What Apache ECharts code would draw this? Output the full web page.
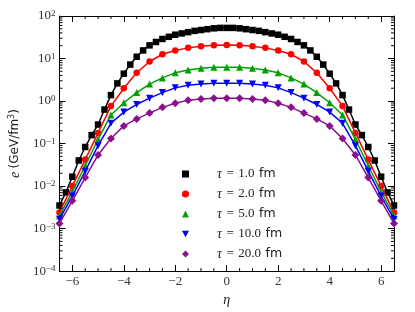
<!DOCTYPE html>
<html><head><meta charset="utf-8">
<script src="https://cdn.jsdelivr.net/npm/echarts@6/dist/echarts.min.js"></script>
<style>html,body{margin:0;padding:0;background:#fff}#c{width:415px;height:312px}</style>
</head><body><div id="c"></div>
<script>
// ---- data ----
const etaFine = [-6.5,-6.25,-6,-5.75,-5.5,-5.25,-5,-4.75,-4.5,-4.25,-4,-3.75,-3.5,-3.25,-3,-2.75,-2.5,-2.25,-2,-1.75,-1.5,-1.25,-1,-0.75,-0.5,-0.25,0,0.25,0.5,0.75,1,1.25,1.5,1.75,2,2.25,2.5,2.75,3,3.25,3.5,3.75,4,4.25,4.5,4.75,5,5.25,5.5,5.75,6,6.25,6.5];
const etaCoarse = [-6.5,-6,-5.5,-5,-4.5,-4,-3.5,-3,-2.5,-2,-1.5,-1,-0.5,0,0.5,1,1.5,2,2.5,3,3.5,4,4.5,5,5.5,6,6.5];
const eTau1 = [0.0035,0.0071,0.0166,0.040,0.083,0.158,0.28,0.63,1.38,2.6,4.4,7.2,11.0,15.5,20.4,24.5,28.8,32.4,36.3,38.9,41.7,44.7,46.8,49.0,51.3,52.5,52.5,52.5,51.3,49.0,46.8,44.7,41.7,38.9,36.3,32.4,28.8,24.5,20.4,15.5,11.0,7.2,4.4,2.6,1.38,0.63,0.28,0.158,0.083,0.040,0.0166,0.0071,0.0035];
const eTau2 = [0.0024,0.010,0.042,0.178,0.76,2.0,4.6,8.5,12.6,15.5,17.8,19.5,20.4,20.9,20.4,19.5,17.8,15.5,12.6,8.5,4.6,2.0,0.76,0.178,0.042,0.010,0.0024];
const eTau5 = [0.0020,0.0074,0.030,0.126,0.47,0.91,1.58,2.5,3.5,4.6,5.4,5.9,6.2,6.2,6.2,5.9,5.4,4.6,3.5,2.5,1.58,0.91,0.47,0.126,0.030,0.0074,0.0020];
const eTau10 = [0.00166,0.0058,0.0224,0.089,0.30,0.55,0.83,1.17,1.58,2.04,2.34,2.51,2.63,2.63,2.63,2.51,2.34,2.04,1.58,1.17,0.83,0.55,0.30,0.089,0.0224,0.0058,0.00166];
const eTau20 = [0.00132,0.0045,0.0158,0.054,0.132,0.26,0.38,0.52,0.71,0.89,1.05,1.12,1.17,1.17,1.17,1.12,1.05,0.89,0.71,0.52,0.38,0.26,0.132,0.054,0.0158,0.0045,0.00132];
const tauLabels = ['1.0','2.0','5.0','10.0','20.0'];
const xTickLabels = [-6,-4,-2,0,2,4,6];
const yTickExponents = [-4,-3,-2,-1,0,1,2];

// ---- styling ----
const colors = ['#000000','#ff0000','#00a000','#0000ff','#8b108b'];
const symbols = ['rect','circle','triangle','path://M0,0L10,0L5,9Z','diamond'];
const symSizes = [6.5,6.5,7,7,8];
const SERIF = '"Liberation Serif", "DejaVu Serif", serif';
const SANS = '"DejaVu Sans", sans-serif';
const minus = s => String(s).replace('-', '\u2212');

const seriesData = [
  [etaFine, eTau1], [etaCoarse, eTau2], [etaCoarse, eTau5], [etaCoarse, eTau10], [etaCoarse, eTau20]
];
const names = tauLabels.map(t => '\u03c4 = ' + t + ' fm');

const series = seriesData.map(([xs, ys], i) => ({
  name: names[i], type: 'line', data: xs.map((x, j) => [x, ys[j]]),
  symbol: symbols[i], symbolSize: symSizes[i], showAllSymbol: true,
  color: colors[i], itemStyle: {color: colors[i]},
  lineStyle: {color: colors[i], width: 1.5}, clip: true, z: 3 + i
}));

// minor ticks (positions from the axes' own scales)
const xMinor = [];
for (let v = -6.5; v <= 6.5; v += 0.5) { if (Math.abs(v) < 6.5 && v % 2 !== 0) xMinor.push([v, 1]); }
const yMinor = [];
for (let n = -4; n <= 1; n++) for (let k = 2; k <= 9; k++) yMinor.push([0, k * Math.pow(10, n)]);

series.push({
  type: 'custom', silent: true, z: 10, data: xMinor, clip: false,
  renderItem: (params, api) => {
    const p = api.coord([api.value(0), 1]); const cs = params.coordSys;
    const st = {stroke: '#000', lineWidth: 1};
    return {type: 'group', children: [
      {type: 'line', shape: {x1: p[0], y1: cs.y + cs.height, x2: p[0], y2: cs.y + cs.height - 3}, style: st},
      {type: 'line', shape: {x1: p[0], y1: cs.y, x2: p[0], y2: cs.y + 3}, style: st}
    ]};
  }
});
series.push({
  type: 'custom', silent: true, z: 10, data: yMinor, clip: false,
  renderItem: (params, api) => {
    const p = api.coord([0, api.value(1)]); const cs = params.coordSys;
    const st = {stroke: '#000', lineWidth: 1};
    return {type: 'group', children: [
      {type: 'line', shape: {x1: cs.x, y1: p[1], x2: cs.x + 3, y2: p[1]}, style: st},
      {type: 'line', shape: {x1: cs.x + cs.width, y1: p[1], x2: cs.x + cs.width - 3, y2: p[1]}, style: st}
    ]};
  }
});

const axisLine = {show: true, onZero: false, lineStyle: {color: '#000', width: 1}};
const xBase = {
  type: 'value', min: -6.5, max: 6.5, splitNumber: 6, minInterval: 2, maxInterval: 2,
  axisLine, splitLine: {show: false},
  axisTick: {show: true, inside: true, length: 6, lineStyle: {color: '#000', width: 1}}
};
const yBase = {
  type: 'log', logBase: 10, min: 1e-4, max: 1e2, splitNumber: 6,
  axisLine, splitLine: {show: false},
  axisTick: {show: true, inside: true, length: 6, lineStyle: {color: '#000', width: 1}}
};

const txt = '#222';
const option = {
  animation: false,
  backgroundColor: '#fff',
  grid: {left: 58, right: 21, top: 16, bottom: 38, containLabel: false},
  xAxis: [
    Object.assign({}, xBase, {
      position: 'bottom',
      axisLabel: {
        margin: 4, color: '#333', fontFamily: SERIF, fontSize: 13,
        formatter: v => xTickLabels.indexOf(v) >= 0 ? minus(v) : ''
      },
      name: '\u03b7', nameLocation: 'middle', nameGap: 17,
      nameTextStyle: {fontFamily: SERIF, fontStyle: 'italic', fontSize: 14, color: txt}
    }),
    Object.assign({}, xBase, {position: 'top', axisLabel: {show: false}})
  ],
  yAxis: [
    Object.assign({}, yBase, {
      position: 'left',
      axisLabel: {
        margin: 4, color: '#333',
        formatter: v => {
          const ex = Math.round(Math.log10(v));
          return yTickExponents.indexOf(ex) >= 0 ? '{b|10}{s|' + minus(ex) + '}' : '';
        },
        rich: {
          b: {fontFamily: SERIF, fontSize: 13, lineHeight: 13, color: '#333'},
          s: {fontFamily: SERIF, fontSize: 9, lineHeight: 9, verticalAlign: 'top', color: '#333'}
        }
      },
      name: '{i|e} {r|(GeV/fm}{s|3}{r|)}', nameLocation: 'middle', nameGap: 32, nameRotate: 90,
      nameTextStyle: {
        rich: {
          i: {fontFamily: SERIF, fontStyle: 'italic', fontSize: 14, lineHeight: 14, color: txt},
          r: {fontFamily: SANS, fontSize: 12, lineHeight: 14, color: txt},
          s: {fontFamily: SANS, fontSize: 8, lineHeight: 8, verticalAlign: 'top', color: txt}
        }
      }
    }),
    Object.assign({}, yBase, {position: 'right', axisLabel: {show: false}})
  ],
  legend: {
    orient: 'vertical', left: 177, top: 162, itemWidth: 7, itemHeight: 7, itemGap: 6,
    data: names.map((n, i) => ({name: n, icon: symbols[i]})),
    selectedMode: false,
    formatter: name => {
      const t = name.split(' ')[2];
      return '{sp| }{t|\u03c4}{g| }{q|=}{g| }{n|' + t + '}{g| }{f|fm}';
    },
    textStyle: {
      rich: {
        sp: {width: 23, lineHeight: 14},
        g: {width: 4.5, lineHeight: 14},
        t: {fontFamily: SERIF, fontStyle: 'italic', fontSize: 14, lineHeight: 14, color: txt},
        q: {fontFamily: SERIF, fontSize: 13, lineHeight: 14, color: txt},
        n: {fontFamily: SERIF, fontSize: 13, lineHeight: 14, color: txt},
        f: {fontFamily: SANS, fontSize: 12.5, lineHeight: 14, color: txt}
      }
    }
  },
  series
};
const chart = echarts.init(document.getElementById('c'), null, {renderer: 'canvas'});
chart.setOption(option);
</script></body></html>
